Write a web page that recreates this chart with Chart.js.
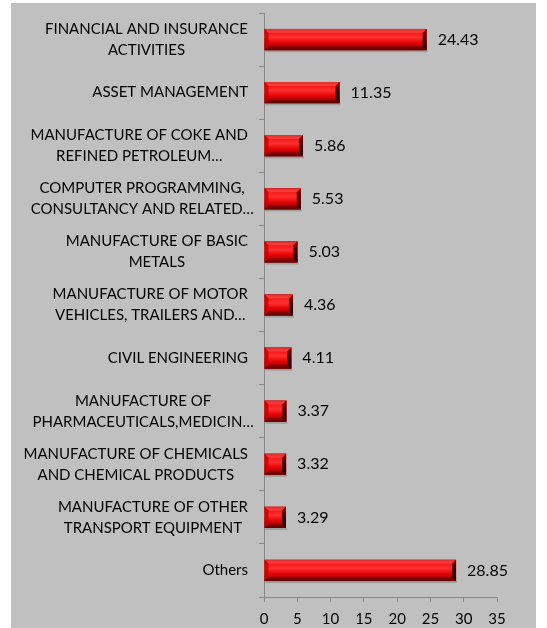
<!DOCTYPE html>
<html>
<head>
<meta charset="utf-8">
<script src="https://cdn.jsdelivr.net/npm/chart.js@4/dist/chart.umd.min.js"></script>
<style>
  html, body { margin: 0; padding: 0; background: #ffffff; }
  #wrap { position: relative; width: 547px; height: 628px; }
</style>
</head>
<body>
<div id="wrap"><canvas id="c" width="547" height="628"></canvas></div>
<script>
// Sectors (multi-line labels) and their shares
const categories = [
  ['FINANCIAL AND INSURANCE', 'ACTIVITIES'],
  ['ASSET MANAGEMENT'],
  ['MANUFACTURE OF COKE AND', 'REFINED PETROLEUM\u2026'],
  ['COMPUTER PROGRAMMING,', 'CONSULTANCY AND RELATED\u2026'],
  ['MANUFACTURE OF BASIC', 'METALS'],
  ['MANUFACTURE OF MOTOR', 'VEHICLES, TRAILERS AND\u2026'],
  ['CIVIL ENGINEERING'],
  ['MANUFACTURE OF', 'PHARMACEUTICALS,MEDICIN\u2026'],
  ['MANUFACTURE OF CHEMICALS', 'AND CHEMICAL PRODUCTS'],
  ['MANUFACTURE OF OTHER', 'TRANSPORT EQUIPMENT'],
  ['Others']
];
const shares = [24.43, 11.35, 5.86, 5.53, 5.03, 4.36, 4.11, 3.37, 3.32, 3.29, 28.85];
const xMin = 0;
const xMax = 35;
const xStep = 5;

const FONT = 'Lato, "Open Sans", sans-serif';
const AXIS_GREY = '#868686';

// Grey panel behind the plot
const panel = {
  id: 'panel',
  beforeDraw(chart) {
    const ctx = chart.ctx;
    ctx.save();
    ctx.fillStyle = '#c0c0c0';
    ctx.fillRect(11, 3, 525, 625);
    ctx.restore();
  }
};

// Bevelled "button" look for each bar, drawn over the library's bar rectangles
const bevelBars = {
  id: 'bevelBars',
  afterDatasetsDraw(chart) {
    const ctx = chart.ctx;
    const meta = chart.getDatasetMeta(0);
    ctx.save();
    meta.data.forEach((bar) => {
      const p = bar.getProps(['x', 'y', 'base', 'height'], true);
      const x0 = Math.min(p.base, p.x), x1 = Math.max(p.base, p.x);
      const t = p.y - p.height / 2, b = p.y + p.height / 2;
      const w = x1 - x0, h = b - t, bv = 4;
      // soft drop shadow
      ctx.fillStyle = 'rgba(60,60,60,0.25)';
      ctx.fillRect(x0 + 1, b, w, 2);
      // face
      const g = ctx.createLinearGradient(0, t, 0, b);
      g.addColorStop(0, '#a00000');
      g.addColorStop(0.12, '#f01010');
      g.addColorStop(0.4, '#ff3030');
      g.addColorStop(0.62, '#e80808');
      g.addColorStop(0.85, '#b00000');
      g.addColorStop(1, '#6a0000');
      ctx.fillStyle = g;
      ctx.fillRect(x0, t, w, h);
      // top bevel
      ctx.fillStyle = 'rgba(255,90,90,0.55)';
      ctx.beginPath();
      ctx.moveTo(x0, t); ctx.lineTo(x1, t); ctx.lineTo(x1 - bv, t + bv); ctx.lineTo(x0 + bv, t + bv);
      ctx.closePath(); ctx.fill();
      // bottom bevel
      ctx.fillStyle = 'rgba(90,0,0,0.55)';
      ctx.beginPath();
      ctx.moveTo(x0, b); ctx.lineTo(x1, b); ctx.lineTo(x1 - bv, b - bv); ctx.lineTo(x0 + bv, b - bv);
      ctx.closePath(); ctx.fill();
      // right end bevel
      const gr = ctx.createLinearGradient(0, t, 0, b);
      gr.addColorStop(0, '#7a0000');
      gr.addColorStop(0.5, '#400000');
      gr.addColorStop(1, '#200000');
      ctx.fillStyle = gr;
      ctx.beginPath();
      ctx.moveTo(x1, t); ctx.lineTo(x1, b); ctx.lineTo(x1 - bv, b - bv); ctx.lineTo(x1 - bv, t + bv);
      ctx.closePath(); ctx.fill();
      // left end bevel
      ctx.fillStyle = 'rgba(200,0,0,0.8)';
      ctx.beginPath();
      ctx.moveTo(x0, t); ctx.lineTo(x0, b); ctx.lineTo(x0 + bv, b - bv); ctx.lineTo(x0 + bv, t + bv);
      ctx.closePath(); ctx.fill();
    });
    ctx.restore();
  }
};

// Value labels to the right of each bar
const valueLabels = {
  id: 'valueLabels',
  afterDatasetsDraw(chart) {
    const ctx = chart.ctx;
    const meta = chart.getDatasetMeta(0);
    const data = chart.data.datasets[0].data;
    ctx.save();
    ctx.font = '16px ' + FONT;
    ctx.fillStyle = '#000000';
    ctx.textAlign = 'left';
    ctx.textBaseline = 'middle';
    meta.data.forEach((bar, i) => {
      ctx.fillText(data[i].toFixed(2), bar.x + 11, bar.y);
    });
    ctx.restore();
  }
};

// Category labels: each block right-aligned against the axis, lines centred within the block
const categoryLabels = {
  id: 'categoryLabels',
  afterDraw(chart) {
    const ctx = chart.ctx;
    const ys = chart.scales.y;
    const lineH = 21;
    const right = ys.right - 16;
    ctx.save();
    ctx.font = '15px ' + FONT;
    ctx.fillStyle = '#000000';
    ctx.textAlign = 'center';
    ctx.textBaseline = 'middle';
    const ell = ctx.measureText('\u2026').width;
    chart.data.labels.forEach((lines, i) => {
      const y = ys.getPixelForTick(i);
      let blockW = 0;
      lines.forEach((ln) => {
        let wd = ctx.measureText(ln).width;
        if (ln.endsWith('\u2026')) wd -= ell;
        blockW = Math.max(blockW, wd);
      });
      const cx = right - blockW / 2;
      lines.forEach((ln, j) => {
        ctx.fillText(ln, cx, y + (j - (lines.length - 1) / 2) * lineH);
      });
    });
    ctx.restore();
  }
};

new Chart(document.getElementById('c'), {
  type: 'bar',
  data: {
    labels: categories,
    datasets: [{
      data: shares,
      backgroundColor: '#d00000',
      borderWidth: 0,
      barPercentage: 0.8,
      categoryPercentage: 0.5
    }]
  },
  options: {
    indexAxis: 'y',
    responsive: false,
    animation: false,
    events: [],
    layout: { padding: { top: 13, right: 50, bottom: 0, left: 0 } },
    plugins: {
      legend: { display: false },
      tooltip: { enabled: false }
    },
    scales: {
      y: {
        type: 'category',
        offset: true,
        grid: {
          display: true,
          offset: true,
          drawOnChartArea: false,
          drawTicks: true,
          tickLength: 5,
          color: AXIS_GREY
        },
        border: { display: true, color: AXIS_GREY, width: 1 },
        ticks: { display: false },
        afterFit(scale) { scale.width = 264; }
      },
      x: {
        type: 'linear',
        min: xMin,
        max: xMax,
        ticks: {
          stepSize: xStep,
          color: '#000000',
          padding: 8,
          font: { family: FONT, size: 15 },
          maxRotation: 0
        },
        grid: {
          display: true,
          drawOnChartArea: false,
          drawTicks: true,
          tickLength: 5,
          color: AXIS_GREY
        },
        border: { display: true, color: AXIS_GREY, width: 1 },
        afterFit(scale) { scale.height = 31; }
      }
    }
  },
  plugins: [panel, bevelBars, valueLabels, categoryLabels]
});
</script>
</body>
</html>
